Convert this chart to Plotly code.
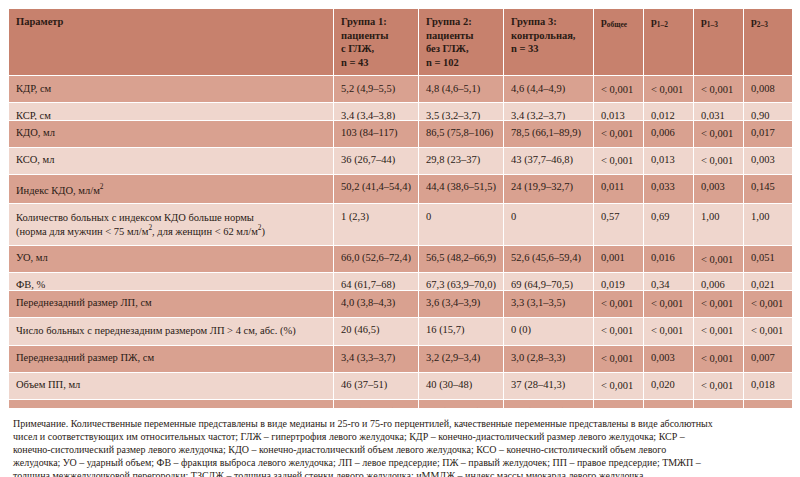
import plotly.graph_objects as go

header = ["Параметр", "Группа 1:<br>пациенты<br>с ГЛЖ,<br>n = 43", "Группа 2:<br>пациенты<br>без ГЛЖ,<br>n = 102",
          "Группа 3:<br>контрольная,<br>n = 33", "p<sub>общее</sub>", "p<sub>1–2</sub>", "p<sub>1–3</sub>", "p<sub>2–3</sub>"]

params = ["КДР, см", "КСР, см", "КДО, мл", "КСО, мл", "Индекс КДО, мл/м<sup>2</sup>",
          "Количество больных с индексом КДО больше нормы<br>(норма для мужчин < 75 мл/м<sup>2</sup>, для женщин < 62 мл/м<sup>2</sup>)",
          "УО, мл", "ФВ, %", "Переднезадний размер ЛП, см",
          "Число больных с переднезадним размером ЛП > 4 см, абс. (%)",
          "Переднезадний размер ПЖ, см", "Объем ПП, мл", "ТМЖП, см", "ТЗСЛЖ, см",
          "иММЛЖ, г/м<sup>2,7</sup>", "Толщина эпикардиального жира, см", "Индекс объема ЛП, мл/м<sup>2</sup>",
          "Число больных с индексом объема ЛП > 34,0 мл/м<sup>2</sup>, абс. (%)"]
group1 = ["5,2 (4,9–5,5)", "3,4 (3,4–3,8)", "103 (84–117)", "36 (26,7–44)", "50,2 (41,4–54,4)", "1 (2,3)",
          "66,0 (52,6–72,4)", "64 (61,7–68)", "4,0 (3,8–4,3)", "20 (46,5)", "3,4 (3,3–3,7)", "46 (37–51)",
          "1,3 (1,2–1,4)", "0,9 (0,8–1,0)", "54,7 (51,9–61)", "0,55 (0,44–0,67)", "24,9 (22,6–29,4)", "3 (5,9)"]
group2 = ["4,8 (4,6–5,1)", "3,5 (3,2–3,7)", "86,5 (75,8–106)", "29,8 (23–37)", "44,4 (38,6–51,5)", "0",
          "56,5 (48,2–66,9)", "67,3 (63,9–70,0)", "3,6 (3,4–3,9)", "16 (15,7)", "3,2 (2,9–3,4)", "40 (30–48)",
          "1,0 (0,9–1,2)", "0,8 (0,7–0,9)", "38,9 (33,9–43,1)", "0,44 (0,34–0,54)", "21,6 (17,8–25,8)", "2 (1,9)"]
group3 = ["4,6 (4,4–4,9)", "3,4 (3,2–3,7)", "78,5 (66,1–89,9)", "43 (37,7–46,8)", "24 (19,9–32,7)", "0",
          "52,6 (45,6–59,4)", "69 (64,9–70,5)", "3,3 (3,1–3,5)", "0 (0)", "3,0 (2,8–3,3)", "37 (28–41,3)",
          "0,8 (0,8–0,9)", "0,7 (0,7–0,8)", "28,4 (26,1–30,7)", "0,3 (0,2–0,4)", "22,1 (18,1–24,9)", "0"]
p_all = ["< 0,001", "0,013", "< 0,001", "< 0,001", "0,011", "0,57", "0,001", "0,019", "< 0,001", "< 0,001",
         "< 0,001", "< 0,001", "< 0,001", "< 0,001", "< 0,001", "< 0,001", "< 0,001", "0,17"]
p12 = ["< 0,001", "0,012", "0,006", "0,013", "0,033", "0,69", "0,016", "0,34", "< 0,001", "< 0,001",
       "0,003", "0,020", "< 0,001", "< 0,001", "< 0,001", "< 0,001", "< 0,001", "–"]
p13 = ["< 0,001", "0,031", "< 0,001", "< 0,001", "0,003", "1,00", "< 0,001", "0,006", "< 0,001", "< 0,001",
       "< 0,001", "< 0,001", "0,000", "< 0,001", "< 0,001", "< 0,001", "< 0,001", "–"]
p23 = ["0,008", "0,90", "0,017", "0,003", "0,145", "1,00", "0,051", "0,021", "< 0,001", "< 0,001",
       "0,007", "0,018", "< 0,001", "< 0,001", "< 0,001", "< 0,001", "0,36", "–"]

note = ("Примечание. Количественные переменные представлены в виде медианы и 25-го и 75-го перцентилей, качественные переменные представлены в виде абсолютных<br>"
        "чисел и соответствующих им относительных частот; ГЛЖ – гипертрофия левого желудочка; КДР – конечно-диастолический размер левого желудочка; КСР –<br>"
        "конечно-систолический размер левого желудочка; КДО – конечно-диастолический объем левого желудочка; КСО – конечно-систолический объем левого<br>"
        "желудочка; УО – ударный объем; ФВ – фракция выброса левого желудочка; ЛП – левое предсердие; ПЖ – правый желудочек; ПП – правое предсердие; ТМЖП –<br>"
        "толщина межжелудочковой перегородки; ТЗСЛЖ – толщина задней стенки левого желудочка; иММЛЖ – индекс массы миокарда левого желудочка.")


def nb(col):
    # keep each cell on one line
    return [s.replace(" ", "\u00a0") for s in col]


mid = "#d9a190"
light = "#efd6cd"
row_colors = [mid if i % 2 == 0 else light for i in range(len(params))]
font = dict(family="Liberation Serif", size=10.5, color="#2a1a14")

fig = go.Figure(go.Table(
    columnwidth=[325, 85, 85, 90, 50, 50, 50, 65],
    header=dict(values=["<b>%s</b>" % h for h in header], fill_color="#c7816d",
                line_color="white", line_width=1, align="left", height=62, font=font),
    cells=dict(values=[params, nb(group1), nb(group2), nb(group3), nb(p_all), nb(p12), nb(p13), nb(p23)],
               fill_color=[row_colors] * 8, line_color="white", line_width=1,
               align="left", height=17.5, font=font),
    domain=dict(x=[0, 1], y=[0.16, 1]),
))

fig.add_annotation(text=note, x=0.003, y=0.005, xref="paper", yref="paper", xanchor="left", yanchor="bottom",
                   align="left", showarrow=False,
                   font=dict(family="Liberation Serif", size=10, color="#2a1a14"))

fig.update_layout(width=800, height=477, margin=dict(l=0, r=0, t=0, b=0), paper_bgcolor="white")
fig.write_html("out.html")
